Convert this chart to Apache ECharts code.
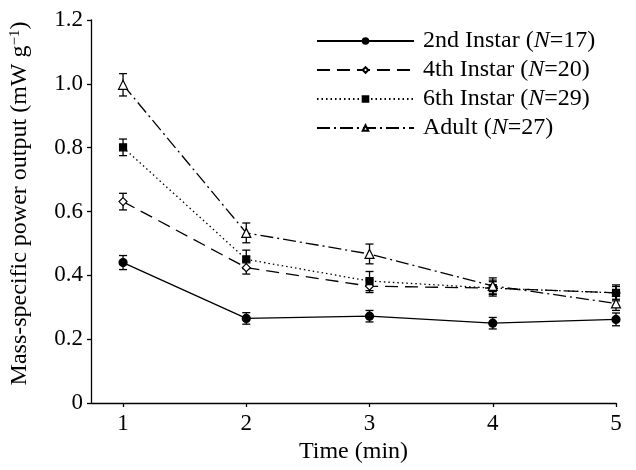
<!DOCTYPE html>
<html><head><meta charset="utf-8">
<script src="https://cdn.jsdelivr.net/npm/echarts@6/dist/echarts.min.js"></script>
<style>html,body{margin:0;padding:0;background:#fff}#c{width:636px;height:470px}</style>
</head><body><div id="c"></div>
<script>
const times = [1, 2, 3, 4, 5];
const xTicks = [1, 2, 3, 4, 5];
const names = ['2nd Instar', '4th Instar', '6th Instar', 'Adult'];
const nLabels = [17, 20, 29, 27];
const instar2 = [0.44, 0.265, 0.272, 0.25, 0.262];
const instar2Err = [0.022, 0.018, 0.018, 0.018, 0.02];
const instar4 = [0.631, 0.424, 0.366, 0.36, 0.345];
const instar4Err = [0.026, 0.02, 0.02, 0.02, 0.02];
const instar6 = [0.801, 0.45, 0.382, 0.36, 0.345];
const instar6Err = [0.026, 0.029, 0.03, 0.025, 0.025];
const adult = [0.997, 0.533, 0.467, 0.367, 0.312];
const adultErr = [0.035, 0.031, 0.031, 0.025, 0.022];

const seriesVals = [instar2, instar4, instar6, adult];
const seriesErr = [instar2Err, instar4Err, instar6Err, adultErr];
const symbols = ['circle', 'diamond', 'rect', 'triangle'];
const symbolSizes = [8, 8, 7, 9];
const fills = ['#000', '#fff', '#000', '#fff'];
const dashes = ['solid', [13, 7], [1.5, 3], [13, 4, 2, 4]];
const FONT = 'Liberation Serif';

const lineSeries = names.map((n, i) => ({
  name: n,
  type: 'line',
  data: times.map((t, j) => [t, seriesVals[i][j]]),
  symbol: symbols[i],
  symbolSize: symbolSizes[i],
  showAllSymbol: true,
  lineStyle: { color: '#000', width: 1.3, type: dashes[i] },
  itemStyle: { color: fills[i], borderColor: '#000', borderWidth: 1.2 },
  z: 3,
  animation: false
}));

const errData = [];
seriesVals.forEach((vals, i) => vals.forEach((v, j) => {
  errData.push([times[j], v - seriesErr[i][j], v + seriesErr[i][j]]);
}));

const errSeries = {
  type: 'custom',
  name: 'err',
  data: errData,
  z: 2,
  animation: false,
  renderItem: function (params, api) {
    const x = api.value(0);
    const lo = api.coord([x, api.value(1)]);
    const hi = api.coord([x, api.value(2)]);
    const w = 4;
    const st = { stroke: '#000', lineWidth: 1.3 };
    return {
      type: 'group',
      children: [
        { type: 'line', shape: { x1: lo[0], y1: lo[1], x2: hi[0], y2: hi[1] }, style: st },
        { type: 'line', shape: { x1: lo[0] - w, y1: lo[1], x2: lo[0] + w, y2: lo[1] }, style: st },
        { type: 'line', shape: { x1: hi[0] - w, y1: hi[1], x2: hi[0] + w, y2: hi[1] }, style: st }
      ]
    };
  }
};

const chart = echarts.init(document.getElementById('c'), null, { renderer: 'canvas' });
chart.setOption({
  backgroundColor: '#fff',
  animation: false,
  textStyle: { fontFamily: FONT, color: '#000' },
  grid: { left: 90, right: 20, top: 20, bottom: 67, containLabel: false },
  legend: {
    data: names,
    orient: 'vertical',
    left: 316,
    top: 29,
    padding: 0,
    itemWidth: 97,
    itemHeight: 7,
    itemGap: 5,
    textStyle: {
      fontFamily: FONT, fontSize: 24, color: '#000', lineHeight: 24, padding: [0, 0, 0, 4],
      rich: {
        t: { fontFamily: FONT, fontSize: 24, color: '#000', lineHeight: 24 },
        i: { fontFamily: FONT, fontSize: 24, color: '#000', fontStyle: 'italic', lineHeight: 24 }
      }
    },
    formatter: function (name) {
      const k = names.indexOf(name);
      return '{t|' + name + ' (}{i|N}{t|=' + nLabels[k] + ')}';
    }
  },
  xAxis: {
    type: 'value',
    min: 0.74,
    max: 5,
    name: 'Time (min)',
    nameLocation: 'middle',
    nameGap: 37,
    nameTextStyle: { fontFamily: FONT, fontSize: 24, color: '#000' },
    axisLine: { lineStyle: { color: '#000', width: 1.3 } },
    axisTick: { show: true, length: 4, customValues: xTicks, lineStyle: { color: '#000', width: 1.3 } },
    axisLabel: { customValues: xTicks, fontFamily: FONT, fontSize: 23, color: '#000', margin: 9 },
    splitLine: { show: false }
  },
  yAxis: {
    type: 'value',
    min: 0,
    max: 1.2,
    interval: 0.2,
    name: '{a|Mass-specific power output (mW g}{s|−1}{a|)}',
    nameLocation: 'middle',
    nameGap: 59,
    nameTextStyle: {
      fontFamily: FONT, fontSize: 24, color: '#000',
      padding: [0, 0, 0, 16],
      rich: {
        a: { fontFamily: FONT, fontSize: 24, color: '#000' },
        s: { fontFamily: FONT, fontSize: 15, color: '#000', verticalAlign: 'top', lineHeight: 18 }
      }
    },
    axisLine: { show: true, lineStyle: { color: '#000', width: 1.3 } },
    axisTick: { show: true, length: 4, lineStyle: { color: '#000', width: 1.3 } },
    axisLabel: {
      fontFamily: FONT, fontSize: 23, color: '#000', margin: 8,
      formatter: function (v) { return v === 0 ? '0' : v.toFixed(1); }
    },
    splitLine: { show: false }
  },
  series: lineSeries.concat([errSeries])
});
</script></body></html>
